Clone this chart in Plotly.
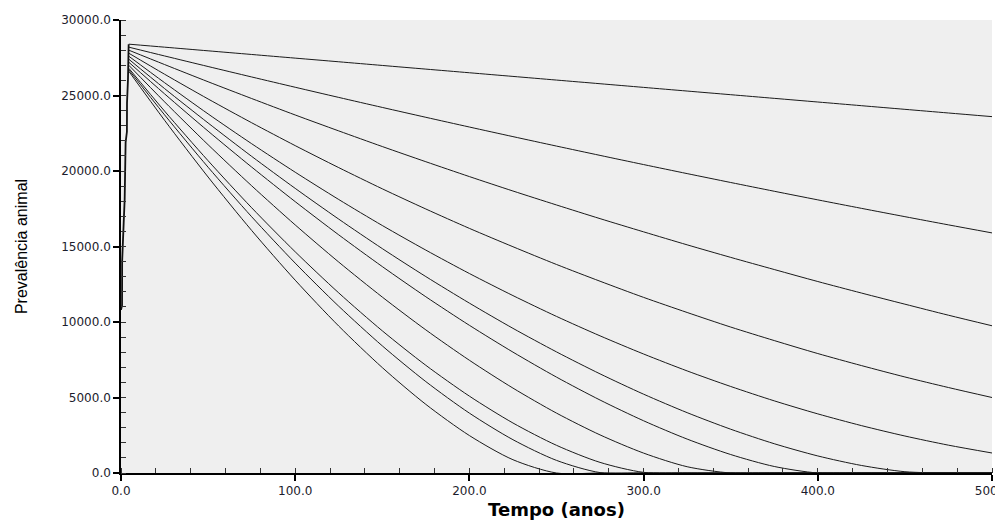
import plotly.graph_objects as go

# initial rise (common to all runs), years / animals
t_ramp = [0.0, 0.6, 0.65, 1.5, 1.55, 2.1, 2.15, 2.6, 2.65, 3.4, 3.45, 4.0, 4.05, 4.4]
v_ramp = [10800, 11100, 14000, 15800, 16600, 18100, 19300, 20300, 21900, 22600, 24500, 26050, 27150, 28400]

# time grid of the declining runs (years)
t_grid = [4.5, 25, 50, 75, 100, 125, 150, 175, 200, 225, 250, 275, 300, 325, 350, 375, 400, 425, 450, 475, 500]

c1 = [28400, 28201, 27959, 27717, 27475, 27233, 26990, 26748, 26506, 26264, 26022, 25780, 25537, 25295, 25053, 24811, 24569, 24326, 24084, 23842, 23600]
c2 = [28200, 27619, 26919, 26228, 25546, 24873, 24210, 23556, 22912, 22277, 21650, 21034, 20426, 19828, 19239, 18659, 18089, 17528, 16976, 16433, 15900]
c3 = [28000, 27050, 25910, 24800, 23710, 22655, 21620, 20614, 19630, 18675, 17750, 16845, 15970, 15110, 14280, 13475, 12680, 11920, 11180, 10450, 9750]
c4 = [27800, 26410, 24770, 23196, 21680, 20223, 18820, 17483, 16200, 14985, 13810, 12700, 11630, 10630, 9665, 8770, 7910, 7115, 6360, 5660, 5000]
c5 = [27600, 25850, 23780, 21807, 19920, 18112, 16390, 14760, 13210, 11750, 10370, 9083, 7880, 6760, 5730, 4778, 3915, 3140, 2450, 1844, 1325]
c6 = [27400, 25460, 23180, 20970, 18850, 16812, 14860, 13007, 11250, 9580, 8020, 6565, 5220, 3996, 2900, 1939, 1130, 500, 86, 0, 0]
c7 = [27200, 25110, 22640, 20261, 17970, 15771, 13670, 11671, 9780, 8006, 6350, 4832, 3458, 2246, 1223, 432, 0, 0, 0, 0, 0]
c8 = [27000, 24580, 21740, 19021, 16430, 13968, 11650, 9477, 7465, 5623, 3966, 2523, 1318, 416, 0, 0, 0, 0, 0, 0, 0]
c9 = [26800, 23970, 20680, 17567, 14650, 11926, 9415, 7131, 5090, 3312, 1833, 703, 42, 0, 0, 0, 0, 0, 0, 0, 0]
c10 = [26700, 23720, 20250, 16972, 13900, 11043, 8420, 6052, 3965, 2205, 836, 28, 0, 0, 0, 0, 0, 0, 0, 0, 0]
c11 = [26600, 23360, 19600, 16063, 12770, 9729, 6980, 4545, 2480, 880, 0, 0, 0, 0, 0, 0, 0, 0, 0, 0, 0]

curves = [c1, c2, c3, c4, c5, c6, c7, c8, c9, c10, c11]

x_ticks = [0, 100, 200, 300, 400, 500]
x_tick_text = ["0.0", "100.0", "200.0", "300.0", "400.0", "500.0"]
y_ticks = [0, 5000, 10000, 15000, 20000, 25000, 30000]
y_tick_text = ["0.0", "5000.0", "10000.0", "15000.0", "20000.0", "25000.0", "30000.0"]

fig = go.Figure()
fig.add_trace(go.Scatter(
    x=t_ramp, y=v_ramp, mode="lines",
    line=dict(color="#111111", width=1.8),
    showlegend=False, hoverinfo="skip"))
for c in curves:
    fig.add_trace(go.Scatter(
        x=t_grid, y=c, mode="lines",
        line=dict(color="#1a1a1a", width=1, shape="spline", smoothing=0.8),
        showlegend=False, hoverinfo="skip"))

tick_font = dict(family="DejaVu Sans", size=12, color="#1c1c2c")
fig.update_layout(
    width=995, height=516,
    margin=dict(l=113, r=11, t=12, b=51, autoexpand=False),
    paper_bgcolor="white", plot_bgcolor="#efefef",
    xaxis=dict(range=[0, 500], tickvals=x_ticks, ticktext=x_tick_text, automargin=False,
               ticklabeloverflow="allow",
               showline=True, linecolor="black", linewidth=1.5,
               ticks="outside", ticklen=6, tickcolor="black", tickwidth=1.5,
               minor=dict(dtick=20, ticks="inside", ticklen=5, tickcolor="#333", tickwidth=1.2),
               showgrid=False, zeroline=False, tickfont=tick_font,
               title=dict(text="Tempo (anos)", font=dict(family="DejaVu Sans", size=18, color="black", weight="bold"), standoff=6)),
    yaxis=dict(range=[0, 30000], tickvals=y_ticks, ticktext=y_tick_text, automargin=False,
               ticklabeloverflow="allow",
               showline=True, linecolor="black", linewidth=1.5,
               ticks="outside", ticklen=6, tickcolor="black", tickwidth=1.5,
               minor=dict(dtick=1000, ticks="inside", ticklen=5, tickcolor="#333", tickwidth=1.2),
               showgrid=False, zeroline=False, tickfont=tick_font,
               title=dict(text="Prevalência animal", font=dict(family="Liberation Sans", size=16, color="black"), standoff=30)),
)
fig.write_html("out.html")
